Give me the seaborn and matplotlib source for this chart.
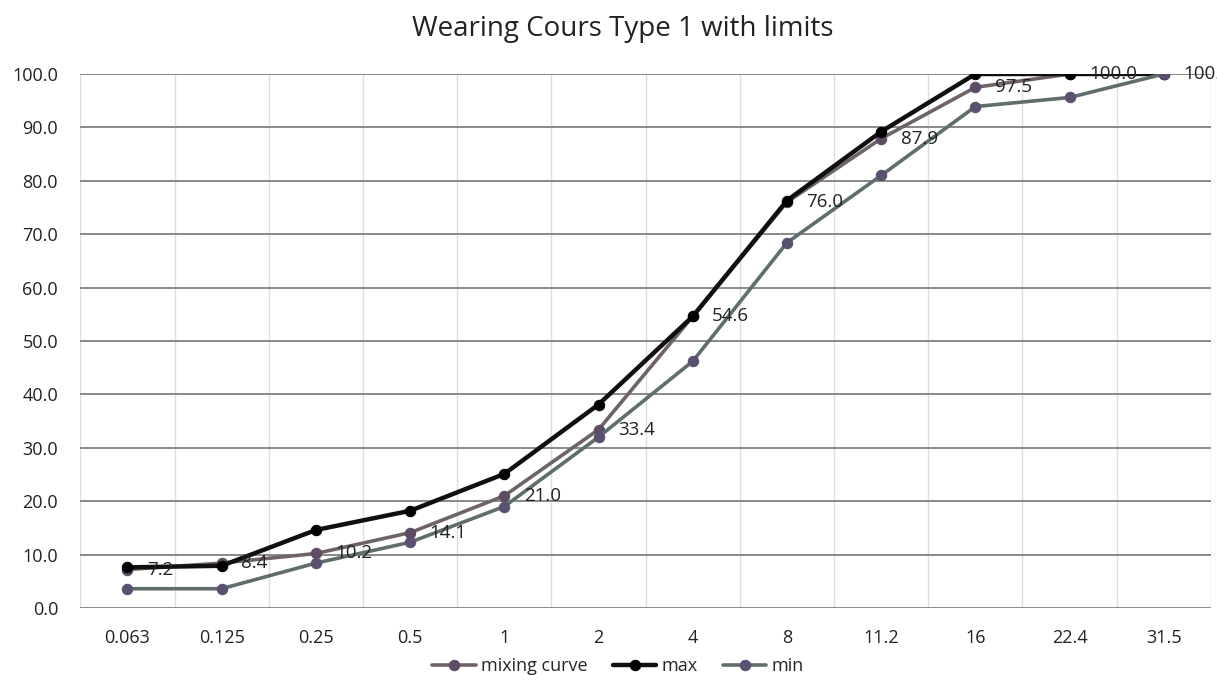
import numpy as np
import pandas as pd
import matplotlib
matplotlib.use("Agg")
import matplotlib.pyplot as plt
import seaborn as sns

sizes = ["0.063", "0.125", "0.25", "0.5", "1", "2", "4", "8", "11.2", "16", "22.4", "31.5"]
mixing = [7.2, 8.4, 10.2, 14.1, 21.0, 33.4, 54.6, 76.0, 87.9, 97.5, 100.0, 100.0]
max_lim = [7.6, 7.9, 14.6, 18.2, 25.1, 38.1, 54.6, 76.3, 89.2, 100.0, 100.0, 100.0]
min_lim = [3.6, 3.6, 8.4, 12.3, 19.0, 32.0, 46.2, 68.4, 81.0, 93.9, 95.6, 100.0]

sns.set_theme(style="white")
plt.rcParams['font.family'] = ['Open Sans', 'DejaVu Sans']

fig = plt.figure(figsize=(12.17, 6.98), dpi=100)
ax = fig.add_axes([0.066, 0.129, 0.929, 0.765])

x = np.arange(len(sizes))
df = pd.DataFrame({"x": x, "mixing curve": mixing, "max": max_lim, "min": min_lim})

styles = {
    "mixing curve": dict(color="#6f6464", mfc="#5e4c66", mec="#5e4c66", lw=2.6, zorder=3),
    "max": dict(color="#101010", mfc="#000000", mec="#000000", lw=3.2, zorder=4),
    "min": dict(color="#5f6e6c", mfc="#5a5070", mec="#5a5070", lw=2.6, zorder=5),
}
for name in ["mixing curve", "max", "min"]:
    st = styles[name]
    sns.lineplot(data=df, x="x", y=name, ax=ax, color=st["color"], lw=st["lw"],
                 marker="o", markersize=7.5, markerfacecolor=st["mfc"],
                 markeredgecolor=st["mec"], label=name, zorder=st["zorder"])

for xi, v in zip(x, mixing):
    ax.annotate(f"{v:.1f}", (xi, v), xytext=(14, 0), textcoords="offset points",
                ha="left", va="center", fontsize=13.5, color="#222222",
                annotation_clip=False, zorder=6)

ax.set_xlim(-0.5, 11.45)
ax.set_ylim(0, 100)
ax.set_yticks(np.arange(0, 101, 10))
ax.set_yticklabels([f"{v:.1f}" for v in np.arange(0, 101, 10)])
ax.set_xticks(x)
ax.set_xticklabels(sizes)
ax.set_xticks(np.arange(-0.5, 11.6, 0.5), minor=True)
ax.grid(False)
ax.grid(axis="y", which="major", color="#808080", lw=1.3)
ax.grid(axis="x", which="minor", color="#dedede", lw=1.0)
ax.tick_params(axis="both", which="both", length=0, labelsize=13, colors="#222222")
ax.tick_params(axis="x", pad=15)
ax.tick_params(axis="y", pad=16)
for s in ax.spines.values():
    s.set_visible(False)
ax.set_xlabel("")
ax.set_ylabel("")

fig.suptitle("Wearing Cours Type 1 with limits", x=0.512, y=0.978, fontsize=20, color="#222222")

ax.get_legend().remove()
handles, labels = ax.get_legend_handles_labels()
fig.legend(handles, labels, loc="center", bbox_to_anchor=(0.508, 0.046), ncol=3,
           frameon=False, fontsize=13, handlelength=2.4, columnspacing=1.4,
           handletextpad=0.3)

fig.savefig("out.png", dpi=100)
